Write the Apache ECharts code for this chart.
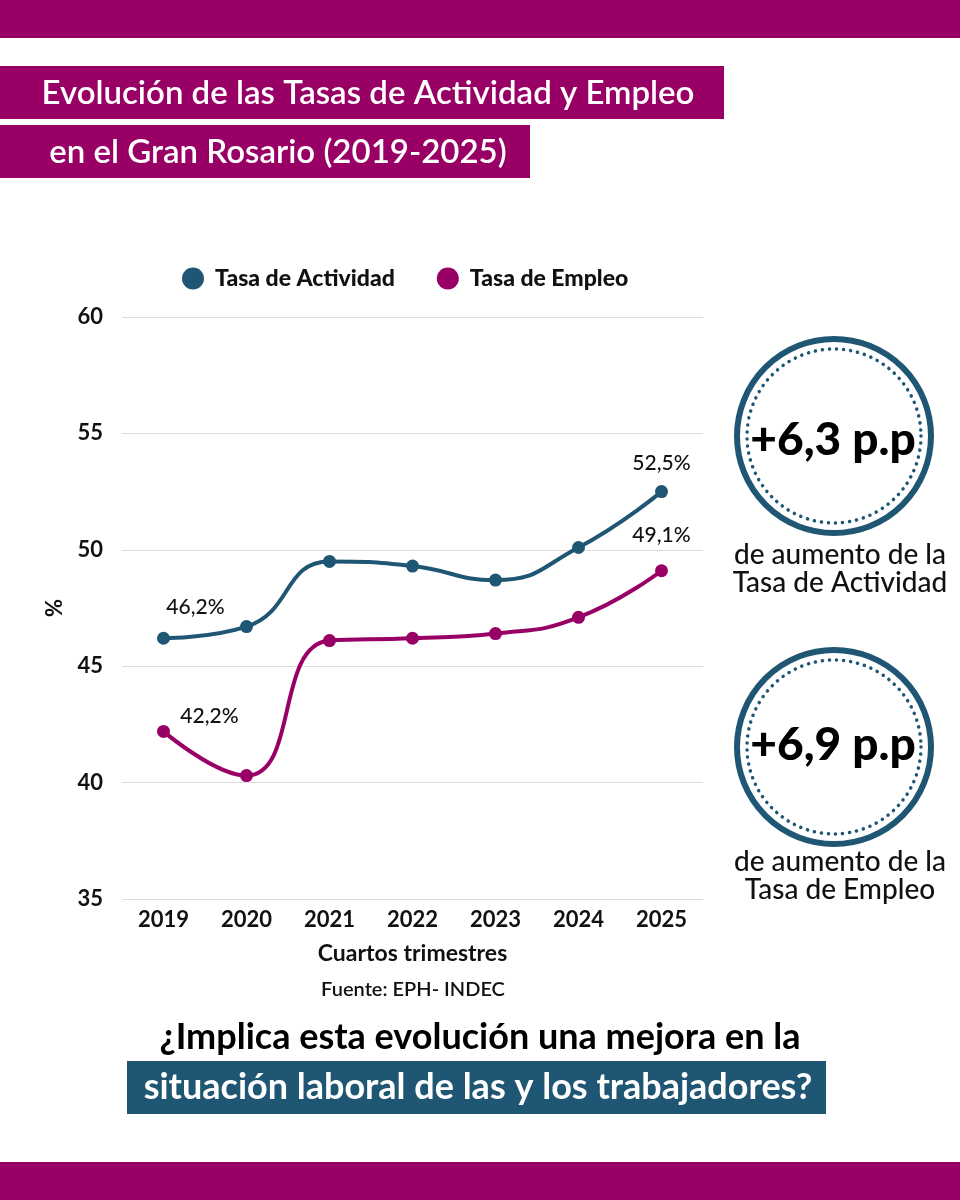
<!DOCTYPE html>
<html>
<head>
<meta charset="utf-8">
<title>Tasas de Actividad y Empleo - Gran Rosario</title>
<script src="https://cdn.jsdelivr.net/npm/echarts@6/dist/echarts.min.js"></script>
<style>
  html, body { margin: 0; padding: 0; background: #fff; }
  #chart { width: 960px; height: 1200px; }
</style>
</head>
<body>
<div id="chart"></div>
<script>
const years = ['2019', '2020', '2021', '2022', '2023', '2024', '2025'];
const tasaActividad = [46.2, 46.7, 49.5, 49.3, 48.7, 50.1, 52.5];
const tasaEmpleo = [42.2, 40.3, 46.1, 46.2, 46.4, 47.1, 49.1];
const yTicks = [35, 40, 45, 50, 55, 60];
// points that carry a value label
const actividadLabelIdx = [0, 6];
const empleoLabelIdx = [0, 6];

const purple = '#990066';
const blue = '#1F5673';
const font = 'Lato';

const chart = echarts.init(document.getElementById('chart'));

function pct(v) {
    return v.toFixed(1).replace('.', ',') + '%';
}

function buildData(values, idxList, offsets) {
    return values.map((v, i) => {
        const k = idxList.indexOf(i);
        if (k < 0) return v;
        return {
            value: v,
            label: { show: true, position: 'inside', offset: offsets[k] }
        };
    });
}

const option = {
    animation: false,
    backgroundColor: '#fff',
    textStyle: { fontFamily: font },
    legend: {
        left: 177,
        top: 262,
        icon: 'circle',
        itemWidth: 22,
        itemHeight: 22,
        itemGap: 42,
        textStyle: { fontFamily: font, fontSize: 23, fontWeight: 900, color: '#111', padding: [0, 0, 0, 6] },
        data: ['Tasa de Actividad', 'Tasa de Empleo']
    },
    grid: { left: 122, right: 257, top: 317, bottom: 301 },
    xAxis: {
        type: 'category',
        data: years,
        boundaryGap: true,
        axisLine: { show: false },
        axisTick: { show: false },
        axisLabel: { color: '#111', fontFamily: font, fontSize: 22, fontWeight: 'bold', margin: 10 },
        name: 'Cuartos trimestres',
        nameLocation: 'middle',
        nameGap: 43,
        nameTextStyle: { color: '#111', fontFamily: font, fontSize: 23, fontWeight: 'bold' }
    },
    yAxis: {
        type: 'value',
        min: yTicks[0],
        max: yTicks[yTicks.length - 1],
        interval: yTicks[1] - yTicks[0],
        axisLine: { show: false },
        axisTick: { show: false },
        axisLabel: { color: '#111', fontFamily: font, fontSize: 22, fontWeight: 'bold', margin: 19 },
        splitLine: { lineStyle: { color: '#dcdcdc', width: 1 } },
        name: '%',
        nameLocation: 'middle',
        nameGap: 56,
        nameTextStyle: { color: '#111', fontFamily: font, fontSize: 22, fontWeight: 'bold' }
    },
    series: [
        {
            name: 'Tasa de Actividad',
            type: 'line',
            smooth: 0.5,
            symbol: 'circle',
            symbolSize: 13,
            color: blue,
            lineStyle: { width: 4, color: blue },
            itemStyle: { color: blue },
            label: {
                show: false,
                formatter: p => pct(p.value),
                color: '#111',
                fontFamily: font,
                fontSize: 21,
                fontWeight: 500
            },
            data: buildData(tasaActividad, actividadLabelIdx, [[32, -31], [0, -28]])
        },
        {
            name: 'Tasa de Empleo',
            type: 'line',
            smooth: 0.5,
            symbol: 'circle',
            symbolSize: 13,
            color: purple,
            lineStyle: { width: 4, color: purple },
            itemStyle: { color: purple },
            label: {
                show: false,
                formatter: p => pct(p.value),
                color: '#111',
                fontFamily: font,
                fontSize: 21,
                fontWeight: 500
            },
            data: buildData(tasaEmpleo, empleoLabelIdx, [[46, -15], [0, -36]])
        }
    ],
    graphic: [
        // bands top and bottom
        { type: 'rect', left: 0, top: 0, shape: { width: 960, height: 38 }, style: { fill: purple } },
        { type: 'rect', left: 0, top: 1162, shape: { width: 960, height: 38 }, style: { fill: purple } },
        // title boxes
        { type: 'rect', left: 0, top: 66, shape: { width: 724, height: 53 }, style: { fill: purple } },
        { type: 'text', x: 368, y: 93, style: { text: 'Evolución de las Tasas de Actividad y Empleo', fill: '#fff', font: '600 33px Lato', align: 'center', verticalAlign: 'middle' } },
        { type: 'rect', left: 0, top: 125, shape: { width: 530, height: 53 }, style: { fill: purple } },
        { type: 'text', x: 278, y: 152, style: { text: 'en el Gran Rosario (2019-2025)', fill: '#fff', font: '600 33px Lato', align: 'center', verticalAlign: 'middle' } },
        // source
        { type: 'text', x: 413, y: 990, style: { text: 'Fuente: EPH- INDEC', fill: '#111', font: '600 20px Lato', align: 'center', verticalAlign: 'middle' } },
        // circle 1
        { type: 'circle', shape: { cx: 834, cy: 436, r: 97 }, style: { fill: 'none', stroke: blue, lineWidth: 6 } },
        { type: 'circle', shape: { cx: 834, cy: 436, r: 87 }, style: { fill: 'none', stroke: blue, lineWidth: 3.5, lineDash: [0.1, 7], lineCap: 'round' } },
        { type: 'text', x: 833, y: 440, style: { text: '+6,3 p.p', fill: '#000', font: '900 46px Lato', align: 'center', verticalAlign: 'middle' } },
        { type: 'text', x: 840, y: 555, style: { text: 'de aumento de la', fill: '#111', font: '500 28px Lato', align: 'center', verticalAlign: 'middle' } },
        { type: 'text', x: 840, y: 583, style: { text: 'Tasa de Actividad', fill: '#111', font: '500 28px Lato', align: 'center', verticalAlign: 'middle' } },
        // circle 2
        { type: 'circle', shape: { cx: 834, cy: 747, r: 97 }, style: { fill: 'none', stroke: blue, lineWidth: 6 } },
        { type: 'circle', shape: { cx: 834, cy: 747, r: 87 }, style: { fill: 'none', stroke: blue, lineWidth: 3.5, lineDash: [0.1, 7], lineCap: 'round' } },
        { type: 'text', x: 833, y: 745, style: { text: '+6,9 p.p', fill: '#000', font: '900 46px Lato', align: 'center', verticalAlign: 'middle' } },
        { type: 'text', x: 840, y: 862, style: { text: 'de aumento de la', fill: '#111', font: '500 28px Lato', align: 'center', verticalAlign: 'middle' } },
        { type: 'text', x: 840, y: 890, style: { text: 'Tasa de Empleo', fill: '#111', font: '500 28px Lato', align: 'center', verticalAlign: 'middle' } },
        // closing question
        { type: 'text', x: 480, y: 1037, style: { text: '¿Implica esta evolución una mejora en la', fill: '#000', font: 'bold 36px Lato', align: 'center', verticalAlign: 'middle' } },
        { type: 'rect', left: 127, top: 1061, shape: { width: 699, height: 53 }, style: { fill: blue } },
        { type: 'text', x: 478, y: 1087, style: { text: 'situación laboral de las y los trabajadores?', fill: '#fff', font: 'bold 36px Lato', align: 'center', verticalAlign: 'middle' } }
    ]
};

chart.setOption(option);
</script>
</body>
</html>
